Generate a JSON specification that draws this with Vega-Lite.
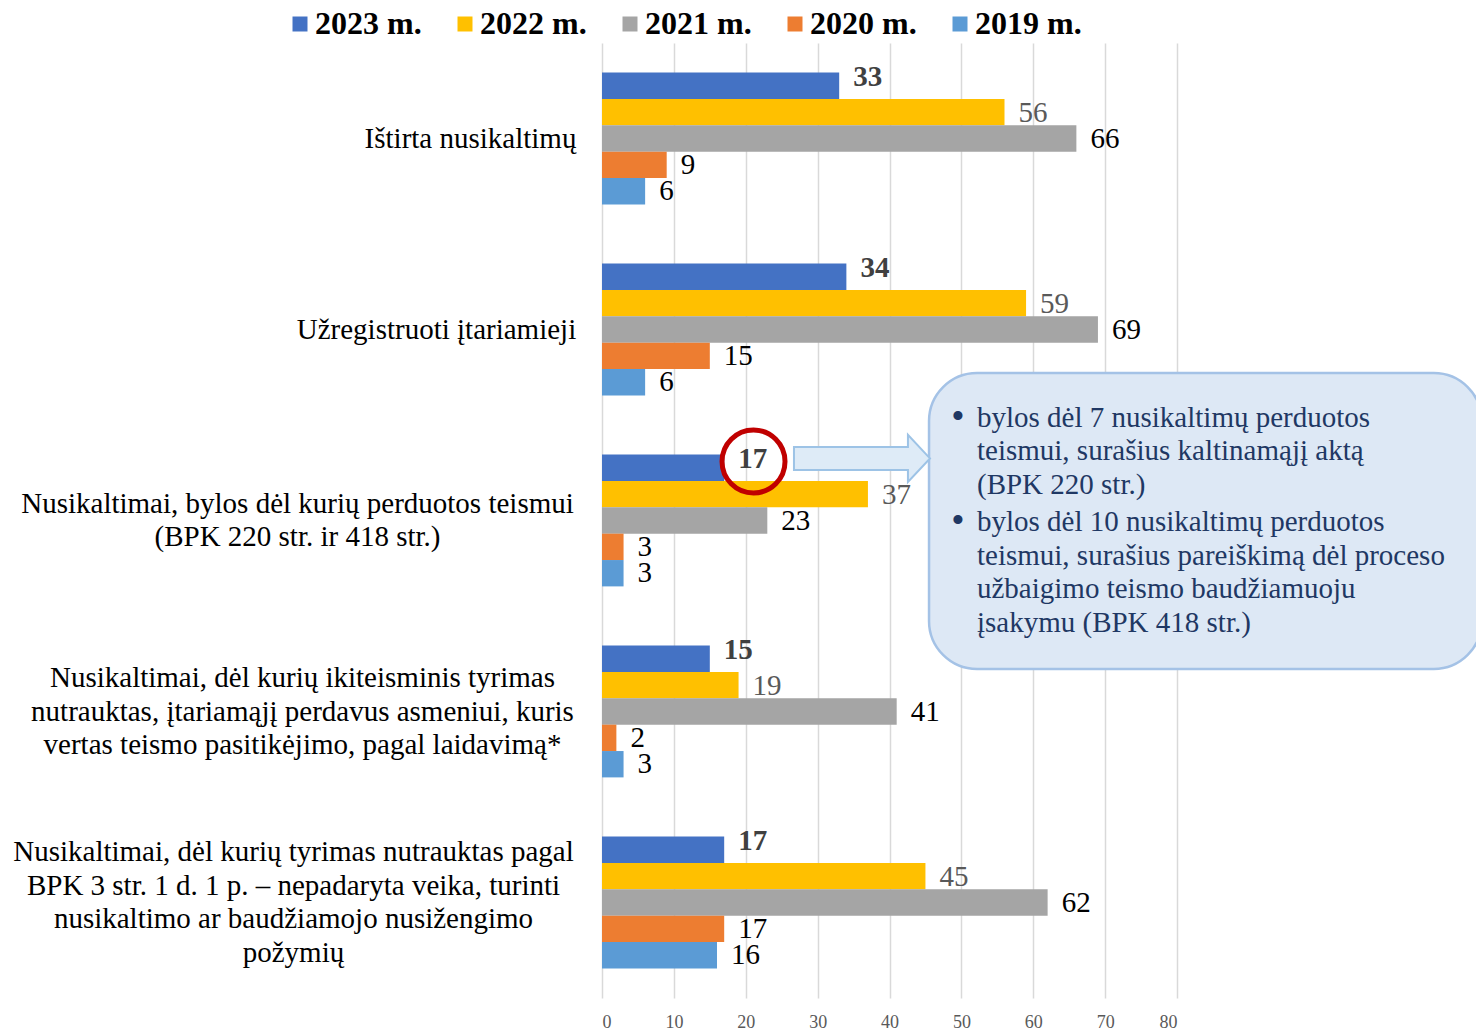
{
  "$schema": "https://vega.github.io/schema/vega-lite/v6.json",
  "width": 575,
  "height": 955,
  "autosize": {"type": "none"},
  "padding": {"left": 602, "top": 43, "right": 299, "bottom": 32},
  "background": "white",
  "config": {"view": {"stroke": null}, "font": "Liberation Serif"},
  "data": {"values": [
    {"cat": "Ištirta nusikaltimų", "year": "2023 m.", "value": 33},
    {"cat": "Ištirta nusikaltimų", "year": "2022 m.", "value": 56},
    {"cat": "Ištirta nusikaltimų", "year": "2021 m.", "value": 66},
    {"cat": "Ištirta nusikaltimų", "year": "2020 m.", "value": 9},
    {"cat": "Ištirta nusikaltimų", "year": "2019 m.", "value": 6},
    {"cat": "Užregistruoti įtariamieji", "year": "2023 m.", "value": 34},
    {"cat": "Užregistruoti įtariamieji", "year": "2022 m.", "value": 59},
    {"cat": "Užregistruoti įtariamieji", "year": "2021 m.", "value": 69},
    {"cat": "Užregistruoti įtariamieji", "year": "2020 m.", "value": 15},
    {"cat": "Užregistruoti įtariamieji", "year": "2019 m.", "value": 6},
    {"cat": "Nusikaltimai, bylos dėl kurių perduotos teismui|(BPK 220 str. ir 418 str.)", "year": "2023 m.", "value": 17},
    {"cat": "Nusikaltimai, bylos dėl kurių perduotos teismui|(BPK 220 str. ir 418 str.)", "year": "2022 m.", "value": 37},
    {"cat": "Nusikaltimai, bylos dėl kurių perduotos teismui|(BPK 220 str. ir 418 str.)", "year": "2021 m.", "value": 23},
    {"cat": "Nusikaltimai, bylos dėl kurių perduotos teismui|(BPK 220 str. ir 418 str.)", "year": "2020 m.", "value": 3},
    {"cat": "Nusikaltimai, bylos dėl kurių perduotos teismui|(BPK 220 str. ir 418 str.)", "year": "2019 m.", "value": 3},
    {"cat": "Nusikaltimai, dėl kurių ikiteisminis tyrimas|nutrauktas, įtariamąjį perdavus asmeniui, kuris|vertas teismo pasitikėjimo, pagal laidavimą*", "year": "2023 m.", "value": 15},
    {"cat": "Nusikaltimai, dėl kurių ikiteisminis tyrimas|nutrauktas, įtariamąjį perdavus asmeniui, kuris|vertas teismo pasitikėjimo, pagal laidavimą*", "year": "2022 m.", "value": 19},
    {"cat": "Nusikaltimai, dėl kurių ikiteisminis tyrimas|nutrauktas, įtariamąjį perdavus asmeniui, kuris|vertas teismo pasitikėjimo, pagal laidavimą*", "year": "2021 m.", "value": 41},
    {"cat": "Nusikaltimai, dėl kurių ikiteisminis tyrimas|nutrauktas, įtariamąjį perdavus asmeniui, kuris|vertas teismo pasitikėjimo, pagal laidavimą*", "year": "2020 m.", "value": 2},
    {"cat": "Nusikaltimai, dėl kurių ikiteisminis tyrimas|nutrauktas, įtariamąjį perdavus asmeniui, kuris|vertas teismo pasitikėjimo, pagal laidavimą*", "year": "2019 m.", "value": 3},
    {"cat": "Nusikaltimai, dėl kurių tyrimas nutrauktas pagal|BPK 3 str. 1 d. 1 p. – nepadaryta veika, turinti|nusikaltimo ar baudžiamojo nusižengimo|požymių", "year": "2023 m.", "value": 17},
    {"cat": "Nusikaltimai, dėl kurių tyrimas nutrauktas pagal|BPK 3 str. 1 d. 1 p. – nepadaryta veika, turinti|nusikaltimo ar baudžiamojo nusižengimo|požymių", "year": "2022 m.", "value": 45},
    {"cat": "Nusikaltimai, dėl kurių tyrimas nutrauktas pagal|BPK 3 str. 1 d. 1 p. – nepadaryta veika, turinti|nusikaltimo ar baudžiamojo nusižengimo|požymių", "year": "2021 m.", "value": 62},
    {"cat": "Nusikaltimai, dėl kurių tyrimas nutrauktas pagal|BPK 3 str. 1 d. 1 p. – nepadaryta veika, turinti|nusikaltimo ar baudžiamojo nusižengimo|požymių", "year": "2020 m.", "value": 17},
    {"cat": "Nusikaltimai, dėl kurių tyrimas nutrauktas pagal|BPK 3 str. 1 d. 1 p. – nepadaryta veika, turinti|nusikaltimo ar baudžiamojo nusižengimo|požymių", "year": "2019 m.", "value": 16}
  ]},
  "resolve": {"scale": {"y": "independent"}, "axis": {"y": "independent"}},
  "layer": [
    {
      "mark": {"type": "bar"},
      "encoding": {
        "y": {
          "field": "cat", "type": "nominal", "sort": null,
          "scale": {"paddingInner": 0.31, "paddingOuter": 0.155},
          "axis": {
            "title": null, "domain": false, "ticks": false, "grid": false,
            "labelFont": "Liberation Serif", "labelFontSize": 29, "labelColor": "black",
            "labelLimit": 0, "labelAlign": "center", "labelLineHeight": 33.5,
            "labelExpr": "split(datum.label, '|')",
            "labelPadding": {"condition": [
              {"test": "datum.value == 'Ištirta nusikaltimų'", "value": 132},
              {"test": "datum.value == 'Užregistruoti įtariamieji'", "value": 166},
              {"test": "datum.value == 'Nusikaltimai, bylos dėl kurių perduotos teismui|(BPK 220 str. ir 418 str.)'", "value": 305},
              {"test": "datum.value == 'Nusikaltimai, dėl kurių ikiteisminis tyrimas|nutrauktas, įtariamąjį perdavus asmeniui, kuris|vertas teismo pasitikėjimo, pagal laidavimą*'", "value": 300}
            ], "value": 309},
            "labelOffset": {"condition": [
              {"test": "datum.value == 'Nusikaltimai, bylos dėl kurių perduotos teismui|(BPK 220 str. ir 418 str.)'", "value": -16.75},
              {"test": "datum.value == 'Nusikaltimai, dėl kurių ikiteisminis tyrimas|nutrauktas, įtariamąjį perdavus asmeniui, kuris|vertas teismo pasitikėjimo, pagal laidavimą*'", "value": -33.5},
              {"test": "datum.value == 'Nusikaltimai, dėl kurių tyrimas nutrauktas pagal|BPK 3 str. 1 d. 1 p. – nepadaryta veika, turinti|nusikaltimo ar baudžiamojo nusižengimo|požymių'", "value": -50.25}
            ], "value": 0}
          }
        },
        "yOffset": {"field": "year", "type": "nominal", "sort": null,
          "scale": {"domain": ["2023 m.", "2022 m.", "2021 m.", "2020 m.", "2019 m."], "paddingInner": 0, "paddingOuter": 0}},
        "x": {
          "field": "value", "type": "quantitative",
          "scale": {"domain": [0, 80]},
          "axis": {
            "title": null, "values": [0, 10, 20, 30, 40, 50, 60, 70, 80],
            "grid": true, "gridColor": "#D9D9D9", "gridWidth": 1.5,
            "domain": false, "ticks": false,
            "labelFont": "Liberation Serif", "labelFontSize": 18, "labelColor": "#595959", "labelPadding": 15
          }
        },
        "color": {
          "field": "year", "type": "nominal",
          "scale": {"domain": ["2023 m.", "2022 m.", "2021 m.", "2020 m.", "2019 m."],
                    "range": ["#4472C4", "#FFC000", "#A5A5A5", "#ED7D31", "#5B9BD5"]},
          "legend": {
            "orient": "none", "legendX": -318, "legendY": -35, "direction": "horizontal", "columns": 5,
            "title": null, "symbolType": "square", "symbolSize": 225, "symbolStrokeWidth": 0,
            "labelFont": "Liberation Serif", "labelFontSize": 32, "labelFontWeight": "bold", "labelColor": "black",
            "columnPadding": 27, "labelOffset": -1, "labelLimit": 0, "padding": 0
          }
        }
      }
    },
    {
      "transform": [{"filter": "datum.year == '2023 m.'"}],
      "mark": {"type": "text", "align": "left", "baseline": "middle", "dx": 14, "dy": -9, "fontSize": 29, "fontWeight": "bold", "color": "#404040", "font": "Liberation Serif"},
      "encoding": {
        "y": {"field": "cat", "type": "nominal", "sort": null, "scale": {"paddingInner": 0.31, "paddingOuter": 0.155}, "axis": null},
        "yOffset": {"field": "year", "type": "nominal", "sort": null},
        "x": {"field": "value", "type": "quantitative"},
        "text": {"field": "value", "type": "quantitative"}
      }
    },
    {
      "transform": [{"filter": "datum.year == '2022 m.'"}],
      "mark": {"type": "text", "align": "left", "baseline": "middle", "dx": 14, "dy": 1, "fontSize": 29, "color": "#595959", "font": "Liberation Serif"},
      "encoding": {
        "y": {"field": "cat", "type": "nominal", "sort": null, "scale": {"paddingInner": 0.31, "paddingOuter": 0.155}, "axis": null},
        "yOffset": {"field": "year", "type": "nominal", "sort": null},
        "x": {"field": "value", "type": "quantitative"},
        "text": {"field": "value", "type": "quantitative"}
      }
    },
    {
      "transform": [{"filter": "datum.year != '2023 m.' && datum.year != '2022 m.'"}],
      "mark": {"type": "text", "align": "left", "baseline": "middle", "dx": 14, "fontSize": 29, "color": "black", "font": "Liberation Serif"},
      "encoding": {
        "y": {"field": "cat", "type": "nominal", "sort": null, "scale": {"paddingInner": 0.31, "paddingOuter": 0.155}, "axis": null},
        "yOffset": {"field": "year", "type": "nominal", "sort": null},
        "x": {"field": "value", "type": "quantitative"},
        "text": {"field": "value", "type": "quantitative"}
      }
    },
    {
      "data": {"values": [{}]},
      "mark": {"type": "rect", "cornerRadius": 48, "fill": "#DDE8F5", "stroke": "#A4C2E6", "strokeWidth": 2.5},
      "encoding": {
        "x": {"datum": 45.5, "type": "quantitative"},
        "x2": {"datum": 122.4},
        "y": {"datum": 1.728, "type": "quantitative", "scale": {"domain": [0, 5], "reverse": true}, "axis": null},
        "y2": {"datum": 3.277}
      }
    },
    {
      "data": {"values": [{}]},
      "mark": {"type": "point", "shape": "M-1,-0.169L0.676,-0.169L0.676,-0.346L1,0L0.676,0.346L0.676,0.169L-1,0.169Z", "size": 18496, "filled": true, "fill": "#DEEBF7", "stroke": "#9DC3E6", "strokeWidth": 2, "opacity": 1},
      "encoding": {
        "x": {"datum": 36.17, "type": "quantitative"},
        "y": {"datum": 2.175, "type": "quantitative", "scale": {"domain": [0, 5], "reverse": true}, "axis": null}
      }
    },
    {
      "data": {"values": [{}]},
      "mark": {"type": "point", "shape": "circle", "size": 3969, "filled": false, "stroke": "#C00000", "strokeWidth": 5, "opacity": 1},
      "encoding": {
        "x": {"datum": 21.08, "type": "quantitative"},
        "y": {"datum": 2.191, "type": "quantitative", "scale": {"domain": [0, 5], "reverse": true}, "axis": null}
      }
    },
    {
      "data": {"values": [{}]},
      "mark": {"type": "text", "align": "left", "baseline": "middle", "fontSize": 29, "lineHeight": 33.5, "color": "#1F3864", "font": "Liberation Serif",
               "text": ["bylos dėl 7 nusikaltimų perduotos", "teismui, surašius kaltinamąjį aktą", "(BPK 220 str.)"]},
      "encoding": {
        "x": {"datum": 52.17, "type": "quantitative"},
        "y": {"datum": 1.963, "type": "quantitative", "scale": {"domain": [0, 5], "reverse": true}, "axis": null}
      }
    },
    {
      "data": {"values": [{}]},
      "mark": {"type": "text", "align": "left", "baseline": "middle", "fontSize": 29, "lineHeight": 33.5, "color": "#1F3864", "font": "Liberation Serif",
               "text": ["bylos dėl 10 nusikaltimų perduotos", "teismui, surašius pareiškimą dėl proceso", "užbaigimo teismo baudžiamuoju", "įsakymu (BPK 418 str.)"]},
      "encoding": {
        "x": {"datum": 52.17, "type": "quantitative"},
        "y": {"datum": 2.508, "type": "quantitative", "scale": {"domain": [0, 5], "reverse": true}, "axis": null}
      }
    },
    {
      "data": {"values": [{}]},
      "mark": {"type": "text", "align": "center", "baseline": "middle", "fontSize": 38, "color": "#1F3864", "font": "Liberation Serif", "text": "•"},
      "encoding": {
        "x": {"datum": 49.53, "type": "quantitative"},
        "y": {"datum": 1.963, "type": "quantitative", "scale": {"domain": [0, 5], "reverse": true}, "axis": null}
      }
    },
    {
      "data": {"values": [{}]},
      "mark": {"type": "text", "align": "center", "baseline": "middle", "fontSize": 38, "color": "#1F3864", "font": "Liberation Serif", "text": "•"},
      "encoding": {
        "x": {"datum": 49.53, "type": "quantitative"},
        "y": {"datum": 2.508, "type": "quantitative", "scale": {"domain": [0, 5], "reverse": true}, "axis": null}
      }
    }
  ]
}
